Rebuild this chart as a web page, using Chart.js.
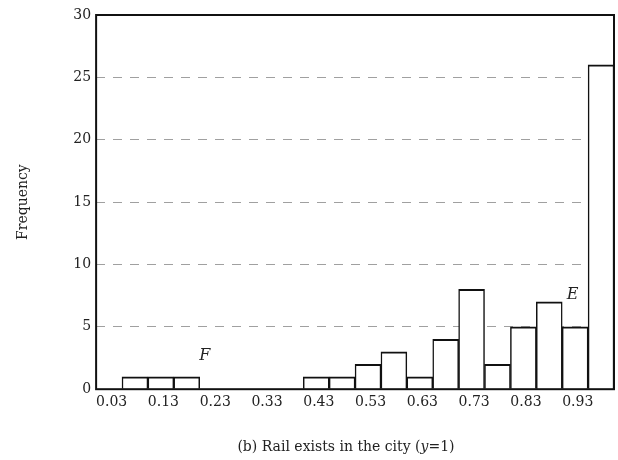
<!DOCTYPE html>
<html>
<head>
<meta charset="utf-8">
<script src="https://cdn.jsdelivr.net/npm/chart.js@4.4.1/dist/chart.umd.min.js"></script>
<style>
  body { margin: 0; background: #fff; }
  #wrap { position: relative; width: 618px; height: 460px; }
  #caption {
    position: absolute; left: 0; top: 438px; width: 692px; text-align: center;
    font-family: "DejaVu Serif", "Liberation Serif", serif; font-size: 14px; color: #222;
  }
</style>
</head>
<body>
<div id="wrap">
  <canvas id="hist"></canvas>
  <div id="caption">(b) Rail exists in the city (<i>y</i>=1)</div>
</div>
<script>
/* bin centres (bins are 0.05 wide, 0 to 1) */
const binCenters = [0.025, 0.075, 0.125, 0.175, 0.225, 0.275, 0.325, 0.375, 0.425, 0.475,
                    0.525, 0.575, 0.625, 0.675, 0.725, 0.775, 0.825, 0.875, 0.925, 0.975];
const frequencies = [0, 1, 1, 1, 0, 0, 0, 0, 1, 1,
                     2, 3, 1, 4, 8, 2, 5, 7, 5, 26];
const xTickValues = [0.03, 0.13, 0.23, 0.33, 0.43, 0.53, 0.63, 0.73, 0.83, 0.93];
const yTickValues = [0, 5, 10, 15, 20, 25, 30];
const pointLabels = [
  { text: 'F', x: 0.21, y: 2.7 },
  { text: 'E', x: 0.92, y: 7.6 }
];

const serif = '"DejaVu Serif", "Liberation Serif", serif';

// full black frame around the plot + the E / F labels
const framePlugin = {
  id: 'frame',
  afterDatasetsDraw(chart) {
    const c = chart.ctx, a = chart.chartArea;
    c.save();
    c.strokeStyle = '#111';
    c.lineWidth = 2;
    c.strokeRect(a.left, a.top, a.right - a.left, a.bottom - a.top);
    c.fillStyle = '#222';
    c.font = 'italic 16px ' + serif;
    c.textAlign = 'center';
    c.textBaseline = 'middle';
    pointLabels.forEach(p => {
      c.fillText(p.text, chart.scales.x.getPixelForValue(p.x), chart.scales.y.getPixelForValue(p.y));
    });
    c.restore();
  }
};

new Chart(document.getElementById('hist'), {
  type: 'bar',
  data: {
    labels: binCenters,
    datasets: [{
      data: binCenters.map((x, i) => ({ x: x, y: frequencies[i] })),
      backgroundColor: '#fff',
      borderColor: '#111',
      borderWidth: { top: 2, left: 1.5, right: 1.5, bottom: 0 },
      borderSkipped: false,
      barPercentage: 1,
      categoryPercentage: 1
    }]
  },
  options: {
    responsive: true,
    maintainAspectRatio: false,
    animation: false,
    layout: { padding: { top: 15, right: 4, left: 15, bottom: 44 } },
    plugins: { legend: { display: false }, tooltip: { enabled: false } },
    scales: {
      x: {
        type: 'linear',
        min: 0,
        max: 1,
        offset: false,
        afterBuildTicks: s => { s.ticks = xTickValues.map(v => ({ value: v })); },
        ticks: {
          color: '#222',
          font: { family: serif, size: 14 },
          padding: 5,
          maxRotation: 0,
          autoSkip: false,
          callback: v => v.toFixed(2)
        },
        grid: { display: false, drawTicks: false },
        border: { display: false }
      },
      y: {
        min: 0,
        max: 30,
        afterBuildTicks: s => { s.ticks = yTickValues.map(v => ({ value: v })); },
        ticks: {
          color: '#222',
          font: { family: serif, size: 14 },
          padding: 5
        },
        title: {
          display: true,
          text: 'Frequency',
          color: '#222',
          font: { family: serif, size: 14 },
          padding: { top: 0, bottom: 36.5 }
        },
        grid: {
          drawTicks: false,
          color: ctx => (ctx.tick && (ctx.tick.value === 0 || ctx.tick.value === 30)) ? 'rgba(0,0,0,0)' : '#a0a0a0',
          lineWidth: 1
        },
        border: { display: false, dash: [9, 8] }
      }
    }
  },
  plugins: [framePlugin]
});
</script>
</body>
</html>
